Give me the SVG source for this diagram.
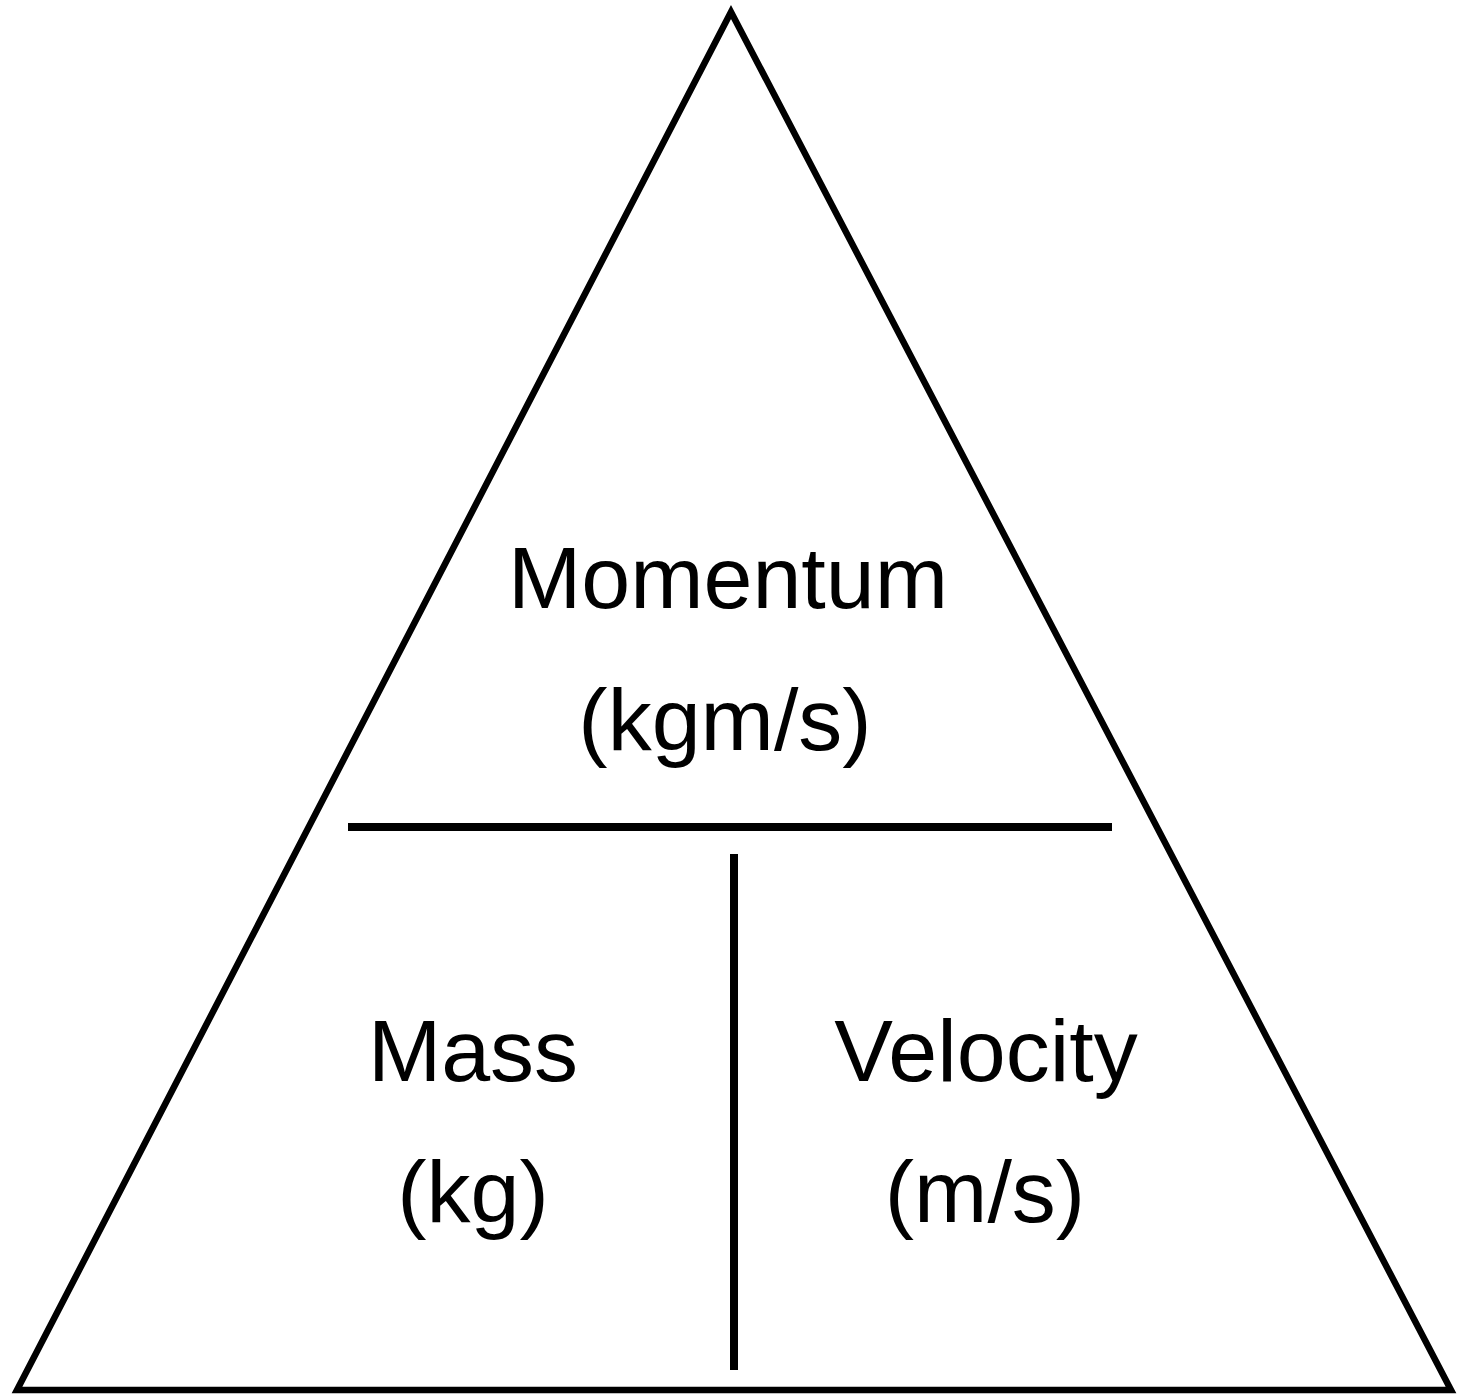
<svg xmlns="http://www.w3.org/2000/svg" width="1469" height="1395" viewBox="0 0 1469 1395">
<style>
.lbl{font-family:"Liberation Sans",Arial,sans-serif;font-size:88px;fill:#000;text-anchor:middle}
.ln{stroke:#000;fill:none}
</style>
<rect width="1469" height="1395" fill="#fff"/>
<g id="triangle"><polygon class="ln" stroke-width="6.5" points="731,12 17,1390 1451,1390"/></g>
<g id="connectors">
<line class="ln" stroke-width="8" x1="348" y1="827" x2="1112" y2="827"/>
<line class="ln" stroke-width="8" x1="734" y1="854" x2="734" y2="1370"/>
</g>
<g id="momentum"><text class="lbl" x="728" y="608">Momentum</text><text class="lbl" x="725" y="750">(kgm/s)</text></g>
<g id="mass"><text class="lbl" x="473" y="1081">Mass</text><text class="lbl" x="473" y="1222">(kg)</text></g>
<g id="velocity"><text class="lbl" x="986" y="1081">Velocity</text><text class="lbl" x="985" y="1222">(m/s)</text></g>
</svg>
